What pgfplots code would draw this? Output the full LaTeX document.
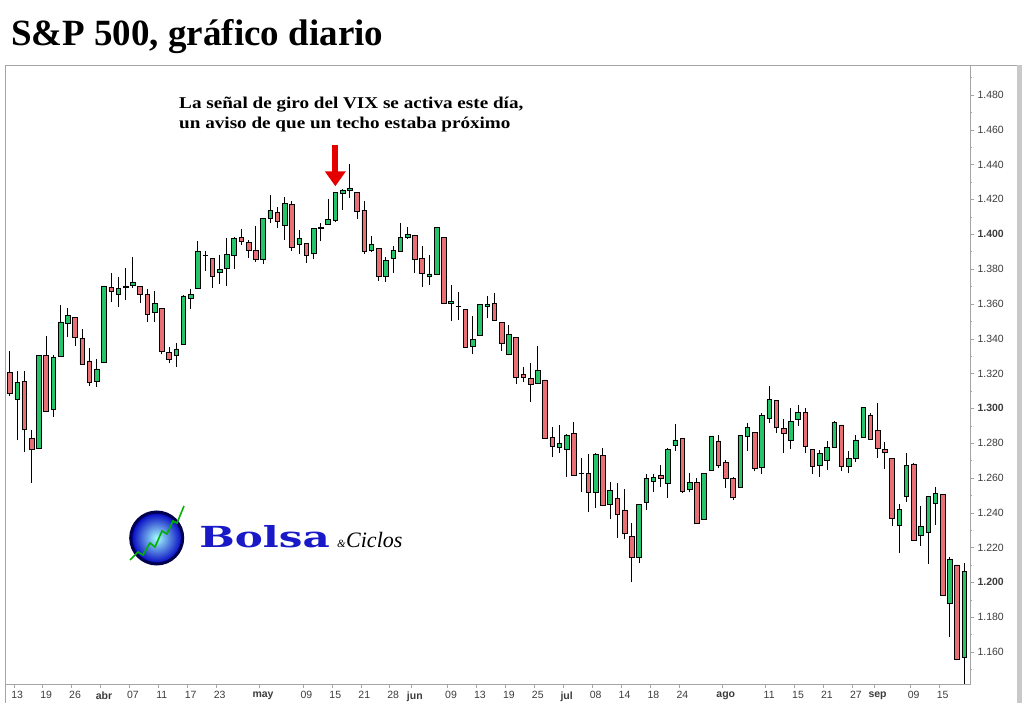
\documentclass[border=0pt]{standalone}
\usepackage{fontspec}
\setmainfont{Liberation Serif}
\setsansfont{Liberation Sans}
\newfontfamily\logofont{DejaVu Serif}
\usepackage{pgfplots}
\pgfplotsset{compat=1.18}
\usepackage{pgfplotstable}
\usetikzlibrary{arrows.meta}

\definecolor{up}{RGB}{38,196,104}
\definecolor{dn}{RGB}{232,112,116}
\definecolor{frame}{RGB}{165,165,165}
\definecolor{lbl}{RGB}{60,60,60}

% S&P 500 daily candles, index 0 = 13 Mar
\pgfplotstableread{
i o h l c
-1 1320.7 1333.1 1307.3 1308.6
0 1305.2 1321.5 1281.5 1315.0
1 1315.6 1321.5 1274.8 1288.0
2 1282.8 1287.4 1257.0 1276.5
3 1276.9 1330.8 1276.5 1330.5
4 1330.5 1341.6 1298.0 1298.3
5 1299.5 1330.5 1294.9 1329.5
6 1329.7 1359.4 1329.5 1349.6
7 1348.7 1357.5 1340.8 1353.1
8 1352.3 1352.6 1336.0 1340.8
9 1340.3 1345.6 1325.0 1325.3
10 1327.2 1334.5 1312.7 1315.0
11 1315.6 1328.4 1312.5 1322.6
12 1326.3 1370.5 1326.0 1370.3
13 1369.6 1377.6 1361.3 1367.3
14 1365.5 1375.3 1358.4 1369.0
15 1369.5 1380.5 1362.0 1370.3
16 1370.4 1386.8 1369.0 1372.6
17 1370.0 1370.5 1360.4 1365.5
18 1365.5 1368.4 1349.8 1354.0
19 1355.2 1367.4 1349.8 1360.4
20 1357.5 1357.8 1331.0 1332.8
21 1332.2 1335.4 1325.9 1328.2
22 1330.5 1337.3 1323.9 1334.1
23 1336.8 1365.1 1336.5 1364.5
24 1363.2 1368.4 1356.9 1365.5
25 1369.0 1396.1 1369.0 1390.4
26 1387.7 1390.4 1379.1 1387.9
27 1386.2 1386.5 1369.3 1375.6
28 1378.1 1388.1 1371.4 1380.0
29 1380.4 1397.7 1370.5 1388.5
30 1387.7 1398.6 1379.9 1397.7
31 1398.3 1402.8 1393.8 1395.8
32 1395.4 1396.7 1386.6 1390.6
33 1391.0 1404.7 1383.9 1385.6
34 1385.6 1409.5 1382.7 1409.1
35 1409.1 1422.6 1406.3 1413.6
36 1412.6 1415.5 1403.8 1407.2
37 1404.9 1421.2 1396.7 1417.8
38 1417.2 1419.3 1390.6 1392.3
39 1394.2 1402.4 1388.5 1397.7
40 1394.8 1395.0 1383.7 1387.7
41 1389.0 1403.8 1385.8 1403.4
42 1403.8 1406.7 1395.8 1403.2
43 1405.7 1420.1 1405.5 1408.6
44 1407.8 1424.5 1406.8 1423.9
45 1423.5 1425.8 1413.9 1425.4
46 1425.0 1440.4 1421.0 1426.4
47 1424.1 1424.3 1408.8 1413.4
48 1413.7 1419.1 1388.5 1390.0
49 1390.6 1399.0 1390.0 1394.4
50 1391.9 1392.1 1373.3 1375.6
51 1375.6 1387.1 1372.8 1384.8
52 1386.2 1393.2 1377.9 1390.6
53 1390.0 1406.6 1389.8 1398.2
54 1398.2 1404.0 1397.3 1400.0
55 1399.4 1399.6 1377.6 1385.6
56 1386.2 1393.3 1369.9 1377.6
57 1376.0 1388.0 1370.9 1377.2
58 1377.0 1404.0 1376.8 1404.0
59 1398.2 1398.4 1359.7 1360.3
60 1360.5 1370.9 1350.4 1361.2
61 1358.6 1366.6 1350.7 1358.4
62 1356.9 1357.1 1335.0 1335.2
63 1335.8 1353.0 1331.0 1339.6
64 1341.6 1359.9 1341.4 1359.7
65 1358.6 1364.5 1351.7 1359.7
66 1360.3 1366.0 1350.0 1350.3
67 1349.4 1349.6 1333.1 1337.3
68 1331.0 1347.9 1330.4 1342.5
69 1340.8 1341.0 1314.1 1317.8
70 1319.5 1323.5 1314.9 1317.8
71 1317.2 1325.8 1303.8 1313.8
72 1314.3 1335.8 1314.1 1322.0
73 1316.3 1316.5 1282.5 1282.7
74 1283.3 1289.4 1271.8 1278.3
75 1277.6 1290.4 1274.5 1279.9
76 1276.4 1285.2 1260.3 1284.7
77 1285.6 1291.9 1261.5 1261.7
78 1262.4 1271.2 1251.7 1262.8
79 1262.6 1273.7 1240.2 1251.7
80 1251.7 1274.1 1242.5 1273.5
81 1272.8 1277.0 1244.1 1244.3
82 1245.0 1257.5 1236.2 1252.7
83 1248.3 1256.9 1225.3 1239.3
84 1241.6 1253.6 1224.7 1228.2
85 1226.6 1233.9 1200.0 1214.4
86 1214.4 1245.2 1210.9 1245.0
87 1246.0 1262.3 1241.6 1259.8
88 1258.0 1262.3 1251.7 1260.3
89 1261.5 1267.4 1255.0 1259.6
90 1256.9 1277.0 1248.3 1276.4
91 1278.7 1291.0 1275.7 1281.8
92 1282.7 1282.9 1251.1 1252.1
93 1253.4 1262.6 1251.7 1257.3
94 1257.5 1259.8 1233.7 1233.9
95 1236.2 1262.8 1236.0 1262.6
96 1264.6 1284.3 1264.4 1284.1
97 1281.2 1284.7 1265.5 1267.4
98 1269.0 1270.3 1254.0 1259.8
99 1259.8 1260.3 1247.3 1248.8
100 1254.6 1284.7 1254.4 1284.5
101 1283.9 1291.4 1275.7 1289.1
102 1286.2 1286.5 1263.8 1265.3
103 1266.1 1297.5 1262.0 1295.8
104 1294.2 1312.8 1291.4 1305.1
105 1304.4 1305.0 1285.6 1289.1
106 1288.5 1293.7 1274.5 1285.6
107 1281.8 1300.0 1276.4 1292.3
108 1293.7 1301.9 1289.8 1297.7
109 1297.7 1300.0 1274.1 1278.0
110 1276.4 1276.8 1262.3 1266.5
111 1267.0 1276.0 1260.7 1274.1
112 1270.3 1281.2 1264.6 1277.6
113 1277.6 1292.7 1277.4 1291.9
114 1290.4 1290.6 1264.2 1266.5
115 1266.5 1275.5 1262.6 1271.3
116 1271.3 1284.7 1269.3 1281.8
117 1283.3 1300.8 1283.1 1300.6
118 1296.2 1297.1 1282.0 1282.4
119 1287.2 1302.9 1271.6 1277.0
120 1276.4 1280.5 1265.1 1274.7
121 1271.3 1271.5 1232.6 1236.8
122 1233.0 1245.0 1216.7 1242.1
123 1249.2 1274.5 1246.4 1267.2
124 1268.0 1268.6 1224.0 1224.2
125 1226.8 1243.9 1221.1 1232.0
126 1228.7 1249.4 1210.5 1249.2
127 1245.4 1255.0 1233.0 1251.2
128 1250.6 1250.8 1192.5 1192.7
129 1188.0 1214.4 1168.8 1213.2
130 1210.0 1210.2 1155.6 1155.8
131 1157.0 1210.9 1133.5 1206.2
}\spx

\pgfplotsset{
  samebox/.style={
    at={(5pt,19pt)}, anchor=south west,
    scale only axis, width=965pt, height=619pt,
    xmin=-1.69, xmax=131.78,
    ymin=1141.6, ymax=1497.2,
  },
}

\begin{document}
\begin{tikzpicture}[x=1pt,y=1pt]
\path[use as bounding box] (0,0) rectangle (1024,703);

% axis, ticks and wicks
\begin{axis}[
    samebox,
    axis line style={frame},
    tick style={frame},
    tick align=outside,
    major tick length=4pt, minor tick length=2pt,
    xtick pos=bottom, ytick pos=right,
    yticklabel pos=right,
    ytick={1160,1180,...,1480},
    minor ytick={1150,1170,...,1490},
    yticklabels={1.160,1.180,\textbf{1.200},1.220,1.240,1.260,1.280,\textbf{1.300},1.320,1.340,1.360,1.380,\textbf{1.400},1.420,1.440,1.460,1.480},
    xtick={-0.5,3.5,7.5,11.5,15.5,19.5,23.5,27.5,33.5,39.5,43.5,47.5,51.5,54.5,59.5,63.5,67.5,71.5,75.5,79.5,83.5,87.5,91.5,97.5,103.5,107.5,111.5,115.5,118.5,123.5,127.5},
    xticklabels={13,19,26,\textbf{abr},07,11,17,23,\textbf{may},09,15,21,28,\textbf{jun},09,13,19,25,\textbf{jul},08,14,18,24,\textbf{ago},11,15,21,27,\textbf{sep},09,15},
    ticklabel style={font=\sffamily\fontsize{10.5}{12}\selectfont, text=lbl},
    xticklabel style={xshift=3.6pt},
]
\addplot[draw=none, mark=none, forget plot,
    error bars/.cd, y dir=plus, y explicit, error mark=none,
    error bar style={black, line width=1pt}]
  table[x=i, y=l, y error plus expr={\thisrow{h}-\thisrow{l}}] {\spx};

\draw[-{Triangle[width=20pt,length=15pt]}, line width=6pt, red!90!black]
  (axis cs:44,1451.5) -- (axis cs:44,1427.5);
\end{axis}

% candle bodies on top
\begin{axis}[
    samebox, hide axis,
    ybar stacked, bar width=4.6pt,
]
\addplot[draw=none, fill=none, forget plot]
  table[x=i, y expr={min(\thisrow{o},\thisrow{c})}] {\spx};
% rising bodies
\addplot[fill=up, draw=black, line width=0.7pt]
  table[x=i, y expr={max(\thisrow{c}-\thisrow{o},0)}] {\spx};
% falling bodies
\addplot[fill=dn, draw=black, line width=0.7pt]
  table[x=i, y expr={max(\thisrow{o}-\thisrow{c},0)}] {\spx};
\end{axis}

% outer frame
\draw[frame] (5,0) -- (5,19);
\draw[frame] (970,638) -- (1017,638);
\fill[frame!60] (1017,0) rectangle (1022,638);

% titles
\node[anchor=base west, inner sep=0, font=\fontsize{37}{40}\selectfont\bfseries]
  at (11,657.3) {S\&P 500, gráfico diario};
\node[anchor=base west, inner sep=0, xscale=1.16, font=\fontsize{16.5}{20}\selectfont\bfseries]
  at (179,594) {La señal de giro del VIX se activa este día,};
\node[anchor=base west, inner sep=0, xscale=1.16, font=\fontsize{16.5}{20}\selectfont\bfseries]
  at (179,574) {un aviso de que un techo estaba próximo};

% logo
\shade[inner color=cyan!35, outer color=blue!75!black] (156.7,165) circle (26);
\draw[blue!30!black, line width=3pt] (156.7,165) circle (26);
\draw[green!70!black, line width=1.6pt] (130,143) -- (138,151) -- (143,148) -- (150,160) -- (155,156) -- (162,172) -- (167,169) -- (173,182) -- (177,180) -- (184,197);
\node[anchor=base west, inner sep=0, text={rgb,255:red,25;green,25;blue,200}, xscale=1.45,
  font=\logofont\bfseries\fontsize{29}{30}\selectfont] at (199,155) {Bolsa};
\node[anchor=base west, inner sep=0, font=\fontsize{11}{12}\selectfont\itshape] at (337,155) {\&};
\node[anchor=base west, inner sep=0, font=\fontsize{22}{24}\selectfont\itshape] at (346,155) {Ciclos};
\end{tikzpicture}
\end{document}
